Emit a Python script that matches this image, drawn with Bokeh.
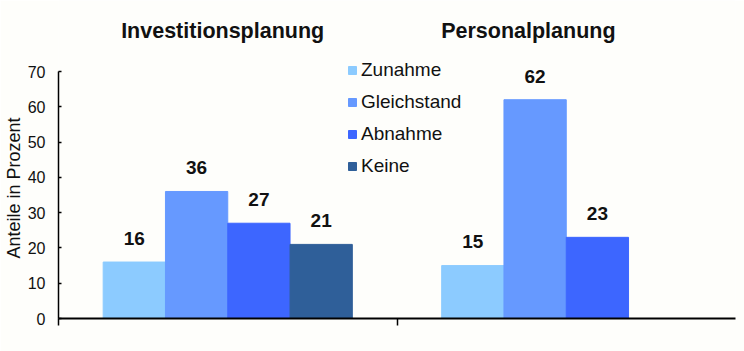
from bokeh.plotting import figure
from bokeh.models import (ColumnDataSource, Range1d, FixedTicker, Legend, LegendItem,
                          LabelSet, Label, Title)
from bokeh.core.properties import value
from bokeh.embed import file_html
from bokeh.resources import INLINE

categories = ["Investitionsplanung", "Personalplanung"]
series = ["Zunahme", "Gleichstand", "Abnahme", "Keine"]
zunahme = [16, 15]
gleichstand = [36, 62]
abnahme = [27, 23]
keine = [21, None]
y_ticks = [0, 10, 20, 30, 40, 50, 60, 70]

values = [zunahme, gleichstand, abnahme, keine]
colors = ["#8CCBFF", "#6699FF", "#3D66FF", "#2F5F99"]

FONT = "Liberation Sans"
BG = "#FEFEFB"

# frame spans from canvas top (y=0) to the x axis (y=318); value 70 sits at y=71
y_max = 70
y_end = y_max * 318.0 / 247.0

p = figure(width=744, height=351, output_backend="svg", toolbar_location=None,
           x_range=Range1d(0, 2), y_range=Range1d(0, y_end),
           min_border=0, min_border_left=58, min_border_right=9, min_border_top=0,
           min_border_bottom=33)
p.background_fill_color = BG
p.border_fill_color = BG
p.outline_line_color = None
p.xgrid.visible = False
p.ygrid.visible = False

bar_w = 0.184
n = len(series)
items = []
lab_x, lab_y, lab_t = [], [], []
for si, (name, vals, col) in enumerate(zip(series, values, colors)):
    xs, tops = [], []
    for ci, v in enumerate(vals):
        if v is None:
            continue
        x = ci + 0.5 + (si - (n - 1) / 2) * bar_w
        xs.append(x)
        tops.append(v)
        lab_x.append(x)
        lab_y.append(v + 6.7)
        lab_t.append(str(v))
    src = ColumnDataSource(dict(x=xs, top=tops))
    r = p.vbar(x="x", top="top", bottom=0, width=bar_w, source=src,
               fill_color=col, line_color=col, line_width=1)
    items.append(LegendItem(label=name, renderers=[r]))

labels = LabelSet(x="x", y="y", text="t", source=ColumnDataSource(dict(x=lab_x, y=lab_y, t=lab_t)),
                  text_align="center", text_baseline="middle", text_font=value(FONT),
                  text_font_style="bold", text_font_size="19px", text_color="#111111")
p.add_layout(labels)

for ci, cat in enumerate(categories):
    tx = [0.485, 1.388][ci]
    p.add_layout(Label(x=tx, y=81.6, text=cat, text_align="center", text_baseline="middle",
                       text_font=FONT, text_font_style="bold", text_font_size="21.5px",
                       text_color="#111111"))

legend = Legend(items=items, location=(289, 141), orientation="vertical",
                glyph_width=10, glyph_height=10, label_height=20, spacing=10,
                label_standoff=4, padding=0, margin=0,
                label_text_font=FONT, label_text_font_size="19px", label_text_color="#111111",
                background_fill_alpha=0, border_line_color=None)
p.add_layout(legend)

yax = p.yaxis[0]
yax.ticker = FixedTicker(ticks=y_ticks)
yax.bounds = (0, y_max)
yax.major_label_text_font = FONT
yax.major_label_text_font_size = "16px"
yax.major_label_text_color = "#111111"
yax.major_label_standoff = 13
yax.major_tick_in = 3
yax.major_tick_out = 0
yax.minor_tick_in = 0
yax.minor_tick_out = 0
yax.axis_line_color = "#000000"
yax.axis_line_width = 1.5
yax.major_tick_line_width = 1.5

ytitle = Title(text="Anteile in Prozent", align="left", offset=60, standoff=2,
               text_font=FONT, text_font_size="18px", text_font_style="normal",
               text_color="#111111")
p.add_layout(ytitle, "left")

xax = p.xaxis[0]
xax.ticker = FixedTicker(ticks=[0, 1])
xax.bounds = (0, 2)
xax.major_label_overrides = {0: "", 1: ""}
xax.major_label_text_font_size = "1px"
xax.major_tick_in = 0
xax.major_tick_out = 7
xax.minor_tick_in = 0
xax.minor_tick_out = 0
xax.axis_line_color = "#000000"
xax.axis_line_width = 2
xax.major_tick_line_width = 1.5

open("out.html", "w").write(file_html(p, INLINE))
